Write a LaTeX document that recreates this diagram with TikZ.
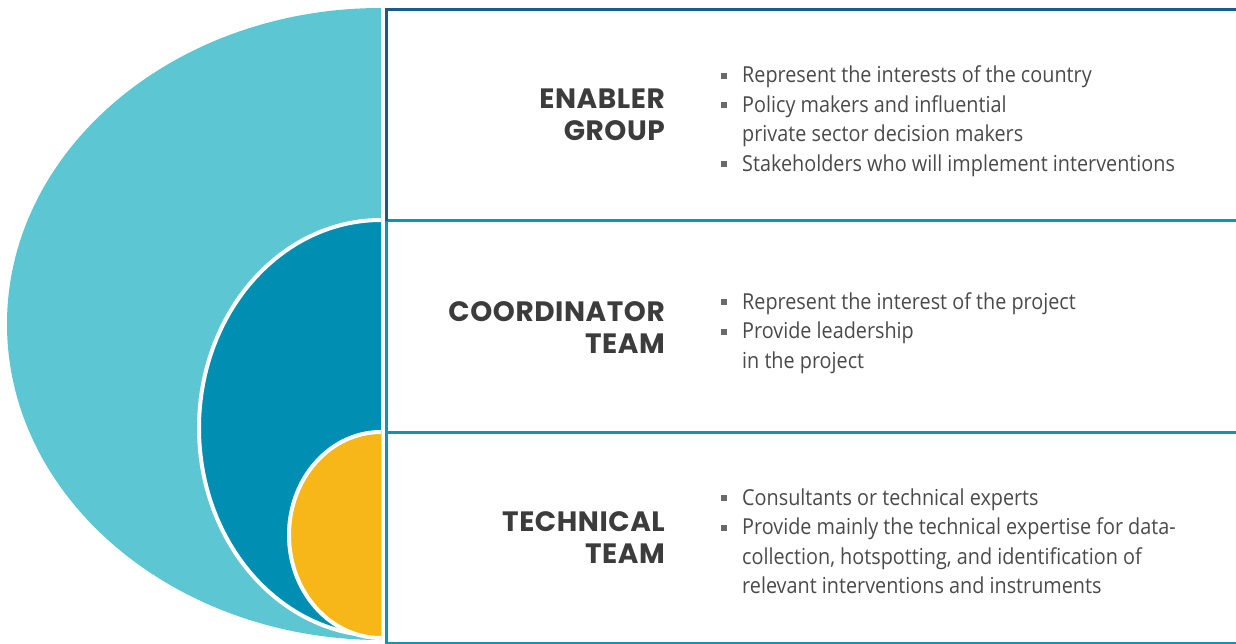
\documentclass[tikz,border=0pt]{standalone}
\usepackage{fontspec}
\setmainfont[FakeStretch=0.9]{Open Sans}
\newfontfamily\headfont[LetterSpace=2]{Poppins}
\definecolor{lightteal}{HTML}{5CC6D2}
\definecolor{darkteal}{HTML}{008FB2}
\definecolor{gold}{HTML}{F7B718}
\definecolor{darkblue}{HTML}{1C5A8C}
\definecolor{lineteal}{HTML}{0F93B7}
\definecolor{headgrey}{HTML}{3C3C3C}
\definecolor{bodygrey}{HTML}{4A4A4A}
\definecolor{bulgrey}{HTML}{6A6A6A}
\tikzset{
  head/.style={anchor=base east, inner sep=0pt, font=\headfont\bfseries\fontsize{28}{32}\selectfont, text=headgrey},
  body/.style={anchor=base west, inner sep=0pt, font=\fontsize{22}{26}\selectfont, text=bodygrey},
  bul/.style={fill=bulgrey, inner sep=0pt, minimum size=6pt, draw=none},
  frameblue/.style={darkblue, line width=3pt},
  frameteal/.style={lineteal, line width=3pt}
}
\begin{document}
\begin{tikzpicture}[x=1pt,y=-1pt]
\useasboundingbox (0,0) rectangle (1236,644);
% nested half ellipses
\begin{scope}
  \clip (0,0) rectangle (381,644);
  \fill[lightteal] (381,324) ellipse [x radius=374, y radius=316];
  \filldraw[fill=darkteal, draw=white, line width=4pt] (381,428) ellipse [x radius=182, y radius=208];
  \filldraw[fill=gold, draw=white, line width=4pt] (381,535) ellipse [x radius=92, y radius=103];
\end{scope}
% frame
\draw[frameblue, line width=3.5pt] (386.5,8) -- (386.5,221);
\draw[frameteal, line width=3.5pt] (386.5,221) -- (386.5,644);
\draw[frameblue] (385,9.5) -- (1236,9.5);
\draw[frameteal] (388,221) -- (1236,221);
\draw[frameteal] (388,432) -- (1236,432);
\draw[frameteal, line width=2pt] (385,643) -- (1236,643);
% headings
\node[head] (h1a) at (665,109) {ENABLER};
\node[head] (h1b) at (665,141) {GROUP};
\node[head] (h2a) at (665,321) {COORDINATOR};
\node[head] (h2b) at (665,353) {TEAM};
\node[head] (h3a) at (665,531) {TECHNICAL};
\node[head] (h3b) at (665,563) {TEAM};
% section 1
\node[bul] (b11) at (724,76) {};
\node[body] (t11) at (742,83) {Represent the interests of the country};
\node[bul] (b12) at (724,105.5) {};
\node[body] (t12) at (742,112.5) {Policy makers and influential};
\node[body] (t12b) at (742,142) {private sector decision makers};
\node[bul] (b13) at (724,164.5) {};
\node[body] (t13) at (742,171.5) {Stakeholders who will implement interventions};
% section 2
\node[bul] (b21) at (724,302) {};
\node[body] (t21) at (742,309) {Represent the interest of the project};
\node[bul] (b22) at (724,331.5) {};
\node[body] (t22) at (742,338.5) {Provide leadership};
\node[body] (t22b) at (742,368) {in the project};
% section 3
\node[bul] (b31) at (724,498) {};
\node[body] (t31) at (742,505) {Consultants or technical experts};
\node[bul] (b32) at (724,527.5) {};
\node[body] (t32) at (742,534.5) {Provide mainly the technical expertise for data-};
\node[body] (t32b) at (742,564) {collection, hotspotting, and identification of};
\node[body] (t32c) at (742,593.5) {relevant interventions and instruments};
\end{tikzpicture}
\end{document}
